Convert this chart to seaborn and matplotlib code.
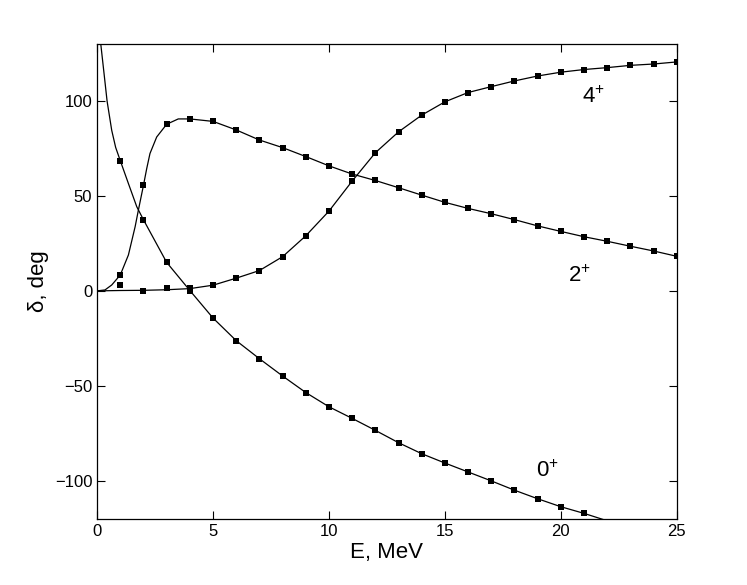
import numpy as np
import pandas as pd
import matplotlib
matplotlib.use('Agg')
import matplotlib.pyplot as plt
import seaborn as sns

# computed phase shifts (square markers)
e_pts = list(range(1, 26))
d0_pts = [68.2, 37.4, 15.0, 0.2, -14.3, -26.2, -35.7, -44.8, -53.5, -61.0,
          -67.1, -73.4, -79.9, -85.7, -90.6, -95.3, -100.0, -104.9, -109.4,
          -113.6, -117.1]
d2_pts = [8.6, 55.6, 87.7, 90.5, 89.2, 84.7, 79.4, 75.4, 70.7, 65.8,
          61.5, 58.1, 54.3, 50.4, 46.6, 43.4, 40.6, 37.5, 34.2, 31.3,
          28.5, 26.1, 23.5, 21.0, 18.2]
d4_pts = [3.0, 0.2, 1.4, 1.7, 3.0, 6.7, 10.7, 18.0, 29.0, 42.0,
          57.8, 72.7, 83.7, 92.5, 99.5, 104.4, 107.5, 110.5, 113.1, 115.1,
          116.5, 117.5, 118.7, 119.4, 120.5]

# solid curves (denser where they bend)
e0_line = [0.12, 0.16, 0.30, 0.43, 0.63, 0.8, 1.0, 1.35, 1.71, 2, 3, 4, 5,
           6, 7, 8, 9, 10, 11, 12, 13, 14, 15, 16, 17, 18, 19, 20, 21, 22]
d0_line = [140, 129.7, 114.3, 99.9, 84.5, 75.5, 68.5, 56.5, 44.3, 37.4,
           15.0, 0.2, -14.3, -26.2, -35.7, -44.8, -53.5, -61.0, -67.1, -73.4,
           -79.9, -85.7, -90.6, -95.3, -100.0, -104.9, -109.4, -113.6,
           -117.1, -121.0]
e2_line = [0, 0.34, 0.63, 1.0, 1.35, 1.64, 1.78, 2.0, 2.14, 2.28, 2.57,
           3.0, 3.5, 4, 5, 6, 7, 8, 9, 10, 11, 12, 13, 14, 15, 16, 17, 18,
           19, 20, 21, 22, 23, 24, 25]
d2_line = [0, 0.5, 3.1, 8.4, 18.9, 33.8, 42.5, 55.6, 64.4, 72.3, 81.0,
           87.7, 90.5, 90.5, 89.2, 84.7, 79.4, 75.4, 70.7, 65.8, 61.5, 58.1,
           54.3, 50.4, 46.6, 43.4, 40.6, 37.5, 34.2, 31.3, 28.5, 26.1, 23.5,
           21.0, 18.2]
e4_line = [0, 1, 2, 3, 4, 5, 6, 7, 8, 9, 10, 11, 12, 13, 14, 15, 16, 17,
           18, 19, 20, 21, 22, 23, 24, 25]
d4_line = [0, 0.2, 0.3, 0.6, 1.2, 3.0, 6.7, 10.7, 18.0, 29.0, 42.0, 57.8,
           72.7, 83.7, 92.5, 99.5, 104.4, 107.5, 110.5, 113.1, 115.1, 116.5,
           117.5, 118.7, 119.4, 120.5]

labels = ['0', '2', '4']
label_pos = [(19.4, -94.8), (20.8, 7.5), (21.4, 102)]

sns.set_style('ticks')
plt.rcParams['font.family'] = ['Liberation Sans', 'DejaVu Sans']
plt.rcParams['mathtext.fontset'] = 'custom'
plt.rcParams['mathtext.rm'] = 'Liberation Sans'
plt.rcParams['mathtext.it'] = 'Liberation Sans'
plt.rcParams['text.color'] = 'black'
plt.rcParams['axes.labelcolor'] = 'black'

fig = plt.figure(figsize=(7.47, 5.85), dpi=100)
ax = fig.add_axes([0.130, 0.113, 0.776, 0.812])

for e, d in [(e0_line, d0_line), (e2_line, d2_line), (e4_line, d4_line)]:
    sns.lineplot(x=e, y=d, ax=ax, color='black', lw=0.9, sort=False,
                 estimator=None)

pts = pd.DataFrame({
    'E': e_pts[:len(d0_pts)] + e_pts + e_pts,
    'delta': d0_pts + d2_pts + d4_pts,
})
sns.scatterplot(data=pts, x='E', y='delta', ax=ax, color='black', marker='s',
                s=18, linewidth=0, zorder=3)

for lab, (x, y) in zip(labels, label_pos):
    ax.text(x, y, '$' + lab + '^{+}$', fontsize=16, ha='center', va='center')

ax.set_xlim(0, 25)
ax.set_ylim(-120, 130)
ax.set_xticks([0, 5, 10, 15, 20, 25])
ax.set_yticks([-100, -50, 0, 50, 100])
ax.tick_params(direction='in', top=True, right=True, length=6, width=0.8,
               labelsize=12, colors='black')
for s in ax.spines.values():
    s.set_linewidth(0.9)
    s.set_color('black')
ax.set_xlabel('E, MeV', fontsize=16, labelpad=2)
ax.set_ylabel('δ, deg', fontsize=16, labelpad=4)

fig.savefig('out.png', dpi=100)
